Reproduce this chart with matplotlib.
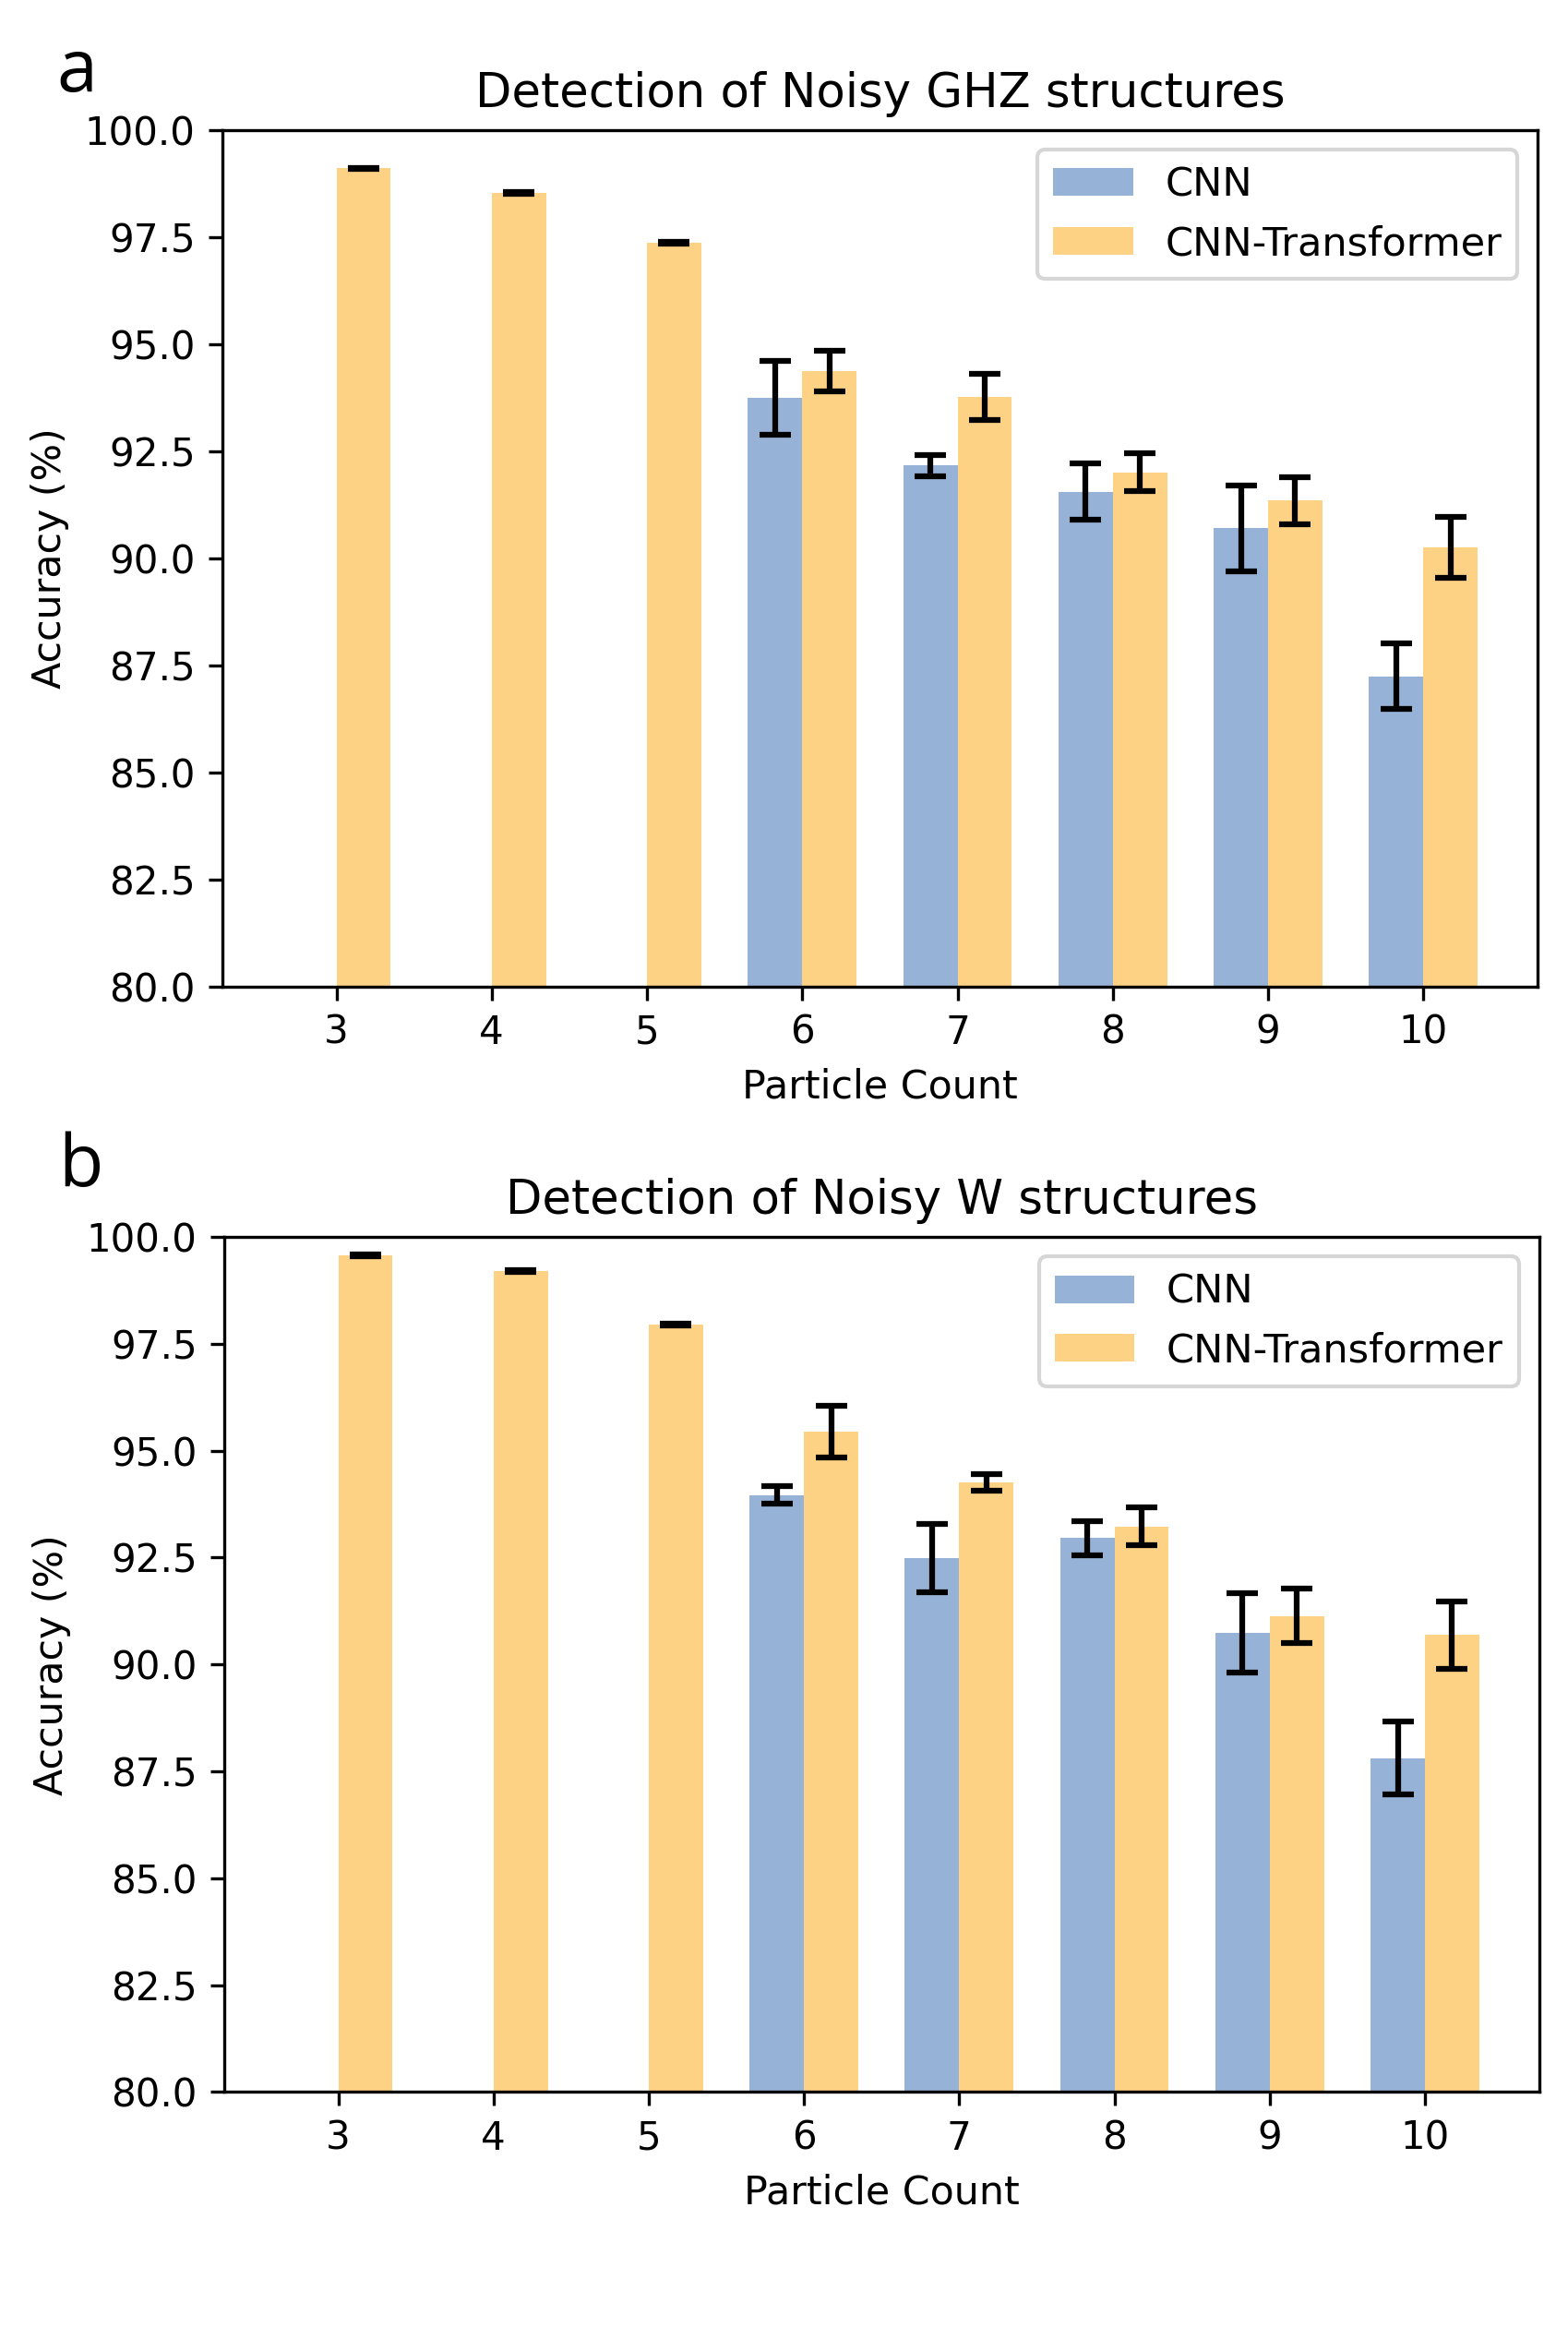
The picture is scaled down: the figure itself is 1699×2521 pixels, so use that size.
import numpy as np
import matplotlib
matplotlib.use("Agg")
import matplotlib.pyplot as plt

particles = [3, 4, 5, 6, 7, 8, 9, 10]

ghz_cnn = [np.nan, np.nan, np.nan, 93.75, 92.16, 91.55, 90.70, 87.24]
ghz_cnn_err = [np.nan, np.nan, np.nan, 0.86, 0.25, 0.66, 1.00, 0.76]
ghz_ct = [99.10, 98.53, 97.36, 94.37, 93.77, 92.00, 91.35, 90.25]
ghz_ct_err = [0.02, 0.02, 0.02, 0.48, 0.54, 0.44, 0.55, 0.71]

w_cnn = [np.nan, np.nan, np.nan, 93.96, 92.49, 92.95, 90.73, 87.81]
w_cnn_err = [np.nan, np.nan, np.nan, 0.21, 0.80, 0.40, 0.93, 0.86]
w_ct = [99.56, 99.20, 97.94, 95.44, 94.25, 93.23, 91.13, 90.69]
w_ct_err = [0.02, 0.02, 0.02, 0.60, 0.19, 0.45, 0.64, 0.79]

titles = ["Detection of Noisy GHZ structures", "Detection of Noisy W structures"]
panel_labels = ["a", "b"]
series_labels = ["CNN", "CNN-Transformer"]
c_cnn = "#96B3D7"
c_ct = "#FED284"

fig = plt.figure(figsize=(1699 / 300, 2521 / 300), dpi=300)
axes_rects = [
    [0.1418, 0.5761, 0.9805 - 0.1418, 0.9442 - 0.5761],
    [0.1430, 0.1010, 0.9815 - 0.1430, 0.4685 - 0.1010],
]
datasets = [
    (ghz_cnn, ghz_cnn_err, ghz_ct, ghz_ct_err),
    (w_cnn, w_cnn_err, w_ct, w_ct_err),
]
letter_pos = [(0.036, 0.969), (0.037, 0.4985)]

width = 0.35
x = np.array(particles, dtype=float)
for i, (rect, data) in enumerate(zip(axes_rects, datasets)):
    cnn, cnn_err, ct, ct_err = [np.array(d, dtype=float) for d in data]
    ax = fig.add_axes(rect)
    m = ~np.isnan(cnn)
    ax.bar(x[m] - width / 2, cnn[m], width, yerr=cnn_err[m], color=c_cnn,
           label=series_labels[0], capsize=4, ecolor="black",
           error_kw=dict(elinewidth=1.5, capthick=1.5))
    ax.bar(x + width / 2, ct, width, yerr=ct_err, color=c_ct,
           label=series_labels[1], capsize=4, ecolor="black",
           error_kw=dict(elinewidth=1.5, capthick=1.5))
    ax.set_xlim(2.265, 10.735)
    ax.set_ylim(80, 100)
    ax.set_xticks(particles)
    ax.set_xticklabels([str(p) for p in particles])
    ax.set_yticks(np.arange(80, 100.1, 2.5))
    ax.set_title(titles[i], fontsize=12.3)
    ax.set_xlabel("Particle Count", fontsize=10.25)
    ax.set_ylabel("Accuracy (%)", fontsize=10.25)
    ax.tick_params(labelsize=10.1)
    ax.legend(loc="upper right", fontsize=10.35)
    fig.text(letter_pos[i][0], letter_pos[i][1], panel_labels[i],
             fontsize=19, family=["Open Sans", "DejaVu Sans"],
             ha="left", va="center")

fig.savefig("out.png", dpi=300)
